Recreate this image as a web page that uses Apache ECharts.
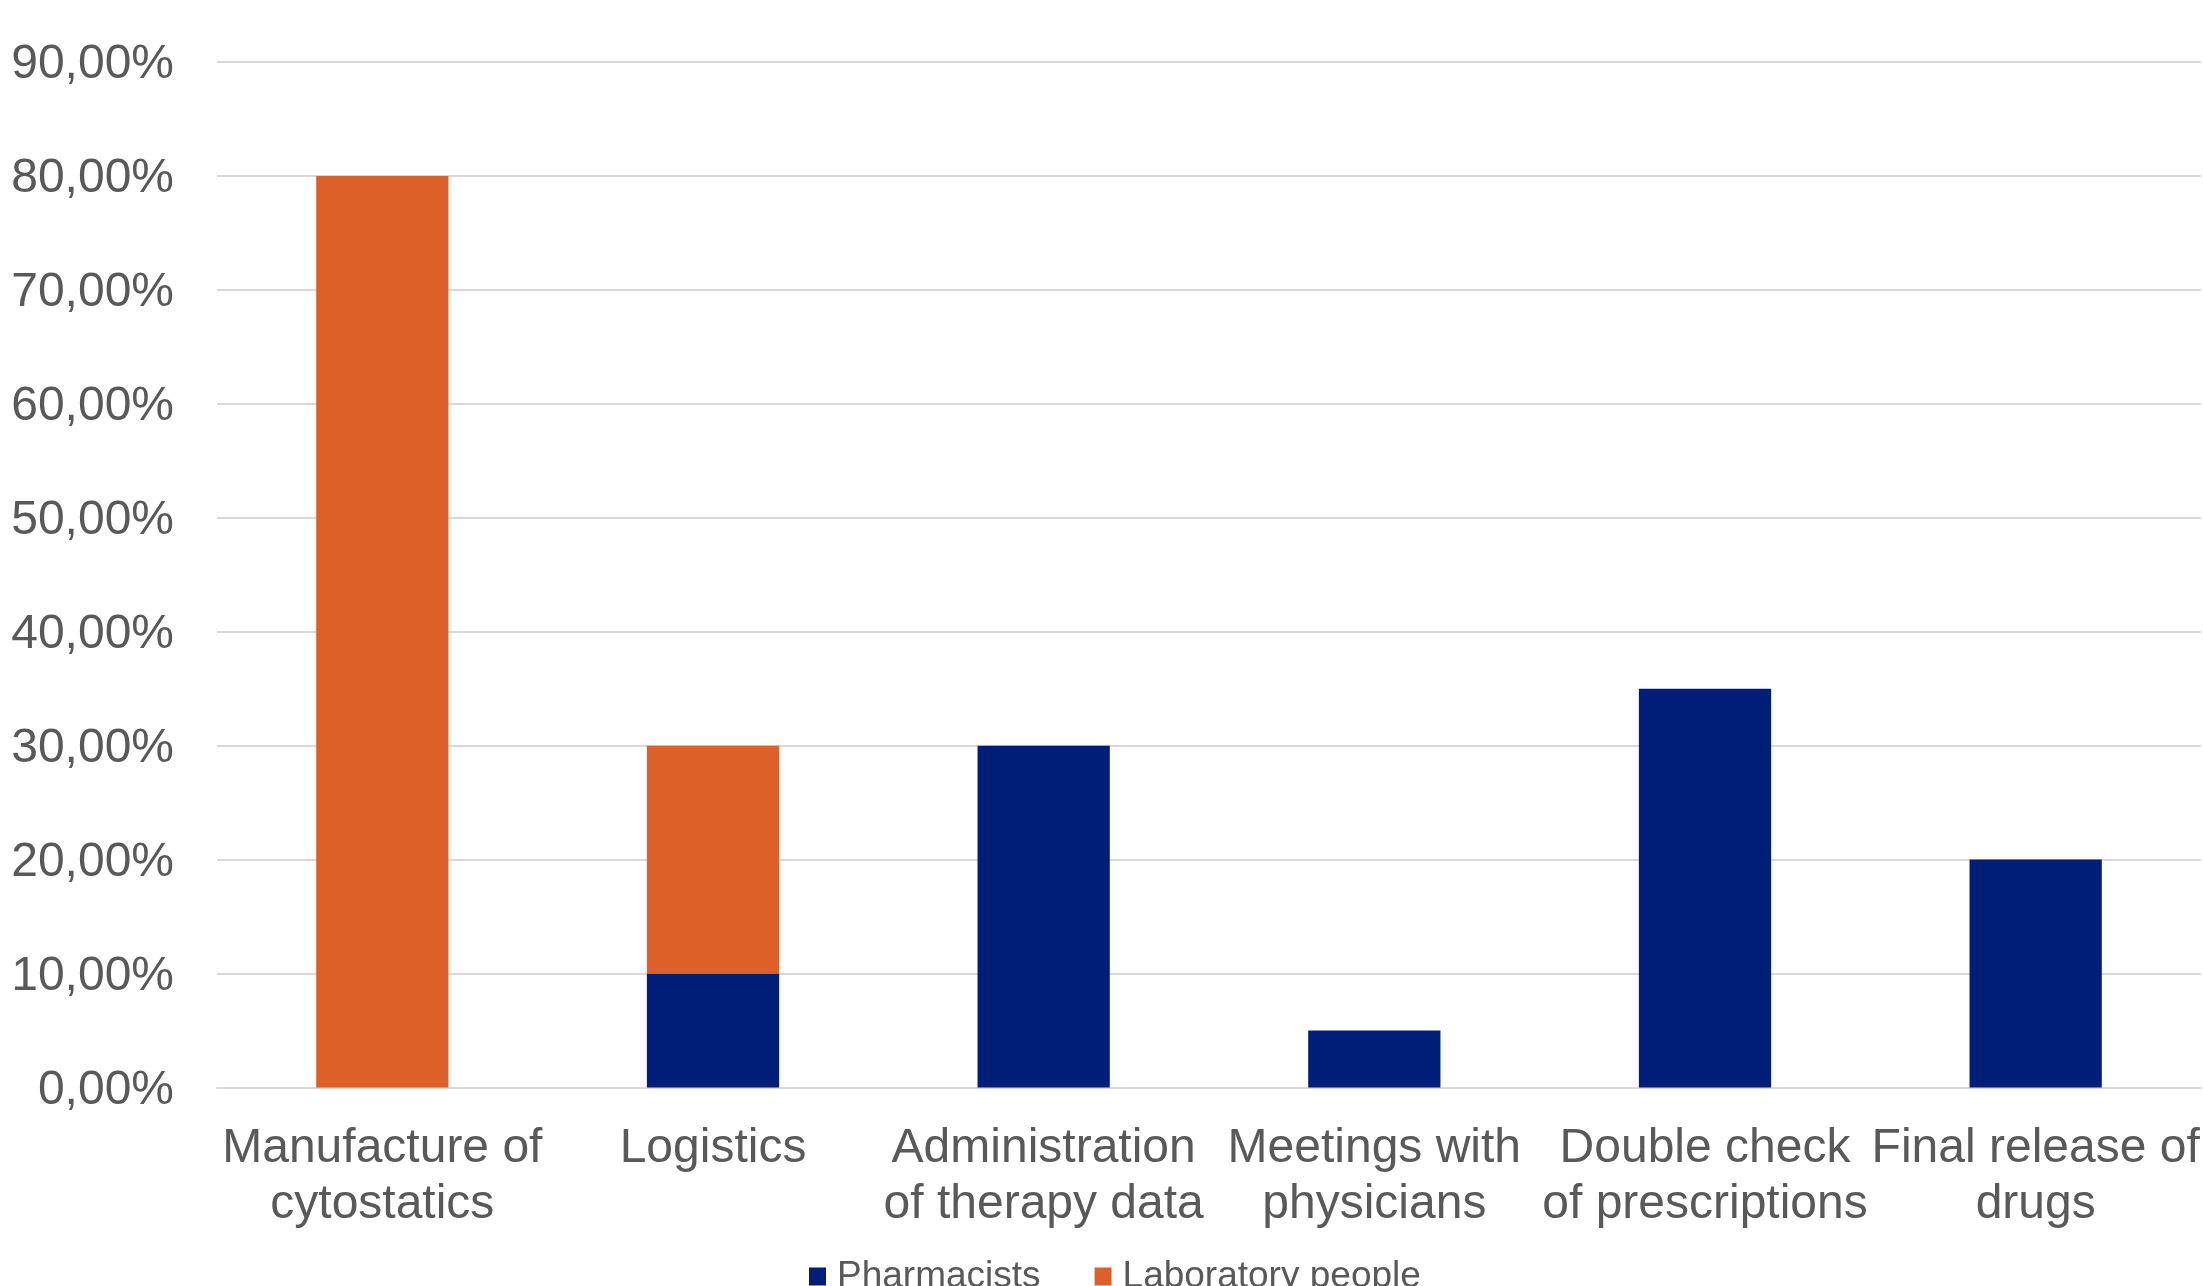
<!DOCTYPE html>
<html>
<head>
<meta charset="utf-8">
<script src="https://cdn.jsdelivr.net/npm/echarts@6/dist/echarts.min.js"></script>
<style>
  html, body { margin: 0; padding: 0; background: #ffffff; }
  #chart { width: 2203px; height: 1286px; }
</style>
</head>
<body>
<div id="chart"></div>
<script>
// Activities and share of each staff group (percent)
const categories = [
  'Manufacture of\ncytostatics',
  'Logistics',
  'Administration\nof therapy data',
  'Meetings with\nphysicians',
  'Double check\nof prescriptions',
  'Final release of\ndrugs'
];
const pharmacists = [0, 10, 30, 5, 35, 20];
const laboratoryPeople = [80, 20, 0, 0, 0, 0];
const yTicks = { min: 0, max: 90, step: 10 };

const textColor = '#595959';
const fontFamily = '"Liberation Sans", Arial, sans-serif';

const chart = echarts.init(document.getElementById('chart'), null, { renderer: 'canvas' });

chart.setOption({
  animation: false,
  backgroundColor: '#ffffff',
  grid: { left: 217, right: 2, top: 62, bottom: 198.5, containLabel: false },
  legend: {
    data: ['Pharmacists', 'Laboratory people'],
    left: 804,
    top: 1253,
    itemWidth: 17,
    itemHeight: 18,
    itemGap: 54,
    icon: 'rect',
    textStyle: { fontSize: 37, color: textColor, fontFamily: fontFamily, padding: [0, 0, 0, 6] }
  },
  xAxis: {
    type: 'category',
    data: categories,
    axisTick: { show: false },
    axisLine: { show: true, lineStyle: { color: '#d9d9d9', width: 2 } },
    axisLabel: {
      interval: 0,
      margin: 33,
      fontSize: 48,
      lineHeight: 56,
      color: textColor,
      fontFamily: fontFamily
    }
  },
  yAxis: {
    type: 'value',
    min: yTicks.min,
    max: yTicks.max,
    interval: yTicks.step,
    axisLine: { show: false },
    axisTick: { show: false },
    splitLine: { lineStyle: { color: '#d9d9d9', width: 2 } },
    axisLabel: {
      margin: 43,
      fontSize: 48,
      color: textColor,
      fontFamily: fontFamily,
      formatter: v => '{v|' + v.toFixed(2).replace('.', ',') + '%}',
      rich: {
        v: {
          fontSize: 48,
          color: textColor,
          fontFamily: fontFamily,
          padding: [6, 0, 0, 0]
        }
      }
    }
  },
  series: [
    {
      name: 'Pharmacists',
      type: 'bar',
      stack: 'share',
      data: pharmacists,
      barWidth: '40%',
      itemStyle: { color: '#001E78' }
    },
    {
      name: 'Laboratory people',
      type: 'bar',
      stack: 'share',
      data: laboratoryPeople,
      barWidth: '40%',
      itemStyle: { color: '#DE6029' }
    }
  ]
});
</script>
</body>
</html>
